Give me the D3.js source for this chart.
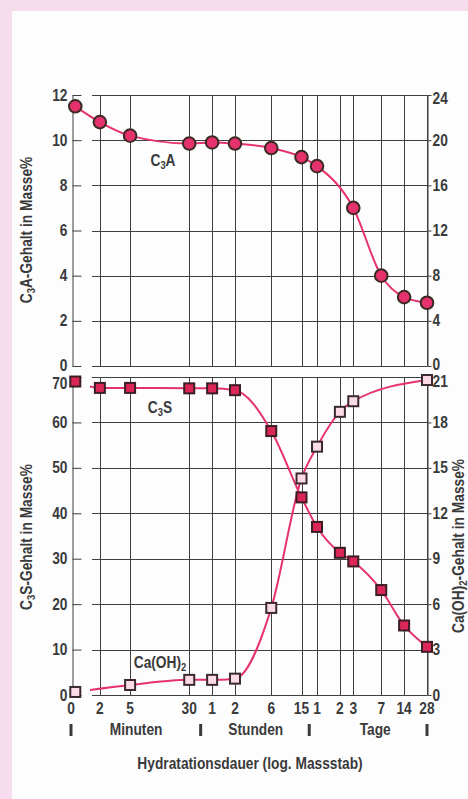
<!DOCTYPE html>
<html>
<head>
<meta charset="utf-8">
<script src="https://cdn.jsdelivr.net/npm/d3@7"></script>
<style>
html, body { margin: 0; padding: 0; background: #f6dcec; }
svg { display: block; }
text { font-family: "Liberation Sans", Arial, sans-serif; fill: #3a3a3a; font-weight: bold; }
</style>
</head>
<body>
<svg id="chart" width="468" height="799"></svg>
<script>

// time axis (minutes), labels as printed
var timeTicks = [0, 2, 5, 30, 60, 120, 360, 900, 1440, 2880, 4320, 10080, 20160, 40320];
var timeLabels = ["0", "2", "5", "30", "1", "2", "6", "15", "1", "2", "3", "7", "14", "28"];
var groupBounds = [0, 42.4, 1138, 40320];
var groupNames = ["Minuten", "Stunden", "Tage"];
var groupCenters = [6, 225, 8400];

var c3aTicksLeft = [0, 2, 4, 6, 8, 10, 12];
var c3aTicksRight = [0, 4, 8, 12, 16, 20, 24];
var c3sTicksLeft = [0, 10, 20, 30, 40, 50, 60, 70];
var caohTicksRight = [0, 3, 6, 9, 12, 15, 18, 21];

var c3aTime = [0, 2, 5, 30, 60, 120, 360, 900, 1440, 4320, 10080, 20160, 40320];
var c3aValues = [11.5, 10.8, 10.2, 9.85, 9.9, 9.85, 9.65, 9.25, 8.85, 7.0, 4.0, 3.05, 2.8];

var c3sTime = [0, 2, 5, 30, 60, 120, 360, 900, 1440, 2880, 4320, 10080, 20160, 40320];
var c3sValues = [69, 67.6, 67.6, 67.5, 67.5, 67.1, 58.1, 43.5, 37.0, 31.3, 29.4, 23.1, 15.3, 10.6];

var caohTime = [0, 5, 30, 60, 120, 360, 900, 1440, 2880, 4320, 40320];
var caohValues = [0.2, 0.66, 1.0, 1.0, 1.08, 5.75, 14.3, 16.4, 18.7, 19.4, 20.8];

var lineColor = "#e6336b";
var gridColor = "#3f3f3f";
var FS = 16, SQ = 0.86;   // condensed look: Arial bold squeezed horizontally

var svg = d3.select("#chart");

// white page, pink frame left/top
svg.append("rect")
    .attr("x", 12).attr("y", 11)
    .attr("width", 456).attr("height", 788)
    .style("fill", "#fdfdfe");

var x = d3.scaleLog().domain([0.86, 40320]).range([72, 427]);
function xPos(t) {
    return t === 0 ? x(0.95) : x(t);
}

var yTop = d3.scaleLinear().domain([0, 12]).range([366, 95]);
var yTopR = d3.scaleLinear().domain([0, 24]).range([366, 95]);
var yBot = d3.scaleLinear().domain([0, 70]).range([695, 377]);
var yBotR = d3.scaleLinear().domain([0, 21]).range([695, 377]);

function zip(ts, vs) {
    return ts.map(function(t, i){ return {t: t, v: vs[i]}; });
}

function squeeze(sel, extra) {
    sel.each(function(){
        var t = d3.select(this);
        var tx = +t.attr("x") || 0, ty = +t.attr("y") || 0;
        t.attr("x", 0).attr("y", 0)
            .attr("transform", "translate(" + tx + "," + ty + ")" + (extra || "") + " scale(" + SQ + ",1)");
    });
}

// nudge the label of one tick up or down
function nudge(axisG, value, px) {
    axisG.selectAll(".tick text")
        .filter(function(d){ return d === value; })
        .attr("dy", (0.32 * FS + px) + "px");
}

function drawPanel(yL, yR, leftTicks, rightTicks) {
    var g = svg.append("g");
    var y0 = yL.range()[0], y1 = yL.range()[1];

    // horizontal grid, leaves a gap next to the left axis
    g.selectAll(".hgrid")
        .data(leftTicks)
        .enter().append("line")
        .attr("x1", 92).attr("x2", x.range()[1])
        .attr("y1", function(d){ return Math.round(yL(d)) + 0.5; })
        .attr("y2", function(d){ return Math.round(yL(d)) + 0.5; })
        .style("stroke", gridColor)
        .style("stroke-width", 1);

    // vertical grid at each time tick
    g.selectAll(".vgrid")
        .data(timeTicks.slice(1))
        .enter().append("line")
        .attr("x1", function(d){ return Math.round(x(d)) + 0.5; })
        .attr("x2", function(d){ return Math.round(x(d)) + 0.5; })
        .attr("y1", y1).attr("y2", y0)
        .style("stroke", gridColor)
        .style("stroke-width", 1);

    var left = g.append("g")
        .attr("transform", "translate(" + (x.range()[0] + 0.5) + ",0)")
        .call(d3.axisLeft(yL).tickValues(leftTicks).tickSizeInner(-9).tickSizeOuter(0).tickPadding(5));

    var right = g.append("g")
        .attr("transform", "translate(" + (x.range()[1] + 0.5) + ",0)")
        .call(d3.axisRight(yR).tickValues(rightTicks).tickSizeInner(4).tickSizeOuter(0).tickPadding(1));

    [left, right].forEach(function(a){
        a.attr("font-family", null).attr("font-size", null);
        a.selectAll("path, line").style("stroke", gridColor).style("stroke-width", 1);
        a.selectAll("text").style("font-size", FS + "px").attr("fill", null);
        squeeze(a.selectAll("text"));
    });
    return {left: left, right: right};
}

function drawLine(data, xs, ys, clip) {
    var path = svg.append("path")
        .datum(data)
        .attr("d", d3.line()
            .x(function(d){ return xs(d.t); })
            .y(function(d){ return ys(d.v); })
            .curve(d3.curveMonotoneX))
        .style("fill", "none")
        .style("stroke", lineColor)
        .style("stroke-width", 2);
    if (clip) path.attr("clip-path", "url(#" + clip + ")");
}

function drawSquares(data, ys, fill, stroke) {
    svg.append("g").selectAll("rect")
        .data(data)
        .enter().append("rect")
        .attr("x", function(d){ return xPos(d.t) - 5; })
        .attr("y", function(d){ return ys(d.v) - 5; })
        .attr("width", 10).attr("height", 10)
        .style("fill", fill)
        .style("stroke", stroke)
        .style("stroke-width", 2);
}

svg.append("clipPath").attr("id", "botClip")
    .append("rect").attr("x", 90).attr("y", 370).attr("width", 360).attr("height", 330);

var topAxes = drawPanel(yTop, yTopR, c3aTicksLeft, c3aTicksRight);
var botAxes = drawPanel(yBot, yBotR, c3sTicksLeft, caohTicksRight);
nudge(topAxes.right, 24, 3);
nudge(topAxes.right, 0, -2);
nudge(topAxes.left, 0, -1);
nudge(botAxes.left, 70, 6);
nudge(botAxes.right, 21, 4);

// C3A
var c3a = zip(c3aTime, c3aValues);
drawLine(c3a, xPos, yTop);
svg.append("g").selectAll("circle")
    .data(c3a)
    .enter().append("circle")
    .attr("cx", function(d){ return xPos(d.t); })
    .attr("cy", function(d){ return yTop(d.v); })
    .attr("r", 6.3)
    .style("fill", "#e5316c")
    .style("stroke", "#3b2a22")
    .style("stroke-width", 2);

// C3S and Ca(OH)2
var c3s = zip(c3sTime, c3sValues);
var caoh = zip(caohTime, caohValues);
drawLine(c3s, xPos, yBot, "botClip");
drawLine(caoh, xPos, yBotR, "botClip");
drawSquares(c3s, yBot, "#dc2658", "#3a1e24");
drawSquares(caoh, yBotR, "#fbdbe7", "#3a2a2e");

// text with a subscript part, squeezed
function subText(px, py, rot, size, a, sub, b) {
    var t = svg.append("text")
        .attr("transform", "translate(" + px + "," + py + ")" + (rot ? " rotate(" + rot + ")" : "") + " scale(" + SQ + ",1)")
        .attr("text-anchor", "middle")
        .style("font-size", size + "px");
    t.append("tspan").text(a);
    t.append("tspan").attr("dy", 3).style("font-size", (size - 5) + "px").text(sub);
    t.append("tspan").attr("dy", -3).text(b);
    return t;
}

// series labels
subText(163, 166, 0, FS, "C", "3", "A");
subText(160, 413, 0, FS, "C", "3", "S");
subText(160, 668, 0, FS, "Ca(OH)", "2", "");

// axis titles
subText(32, 230, -90, FS, "C", "3", "A-Gehalt in Masse%");
subText(32, 537, -90, FS, "C", "3", "S-Gehalt in Masse%");
subText(464, 546, -90, FS, "Ca(OH)", "2", "-Gehalt in Masse%");

// time tick labels
var tl = svg.append("g").selectAll("text")
    .data(timeTicks)
    .enter().append("text")
    .attr("x", function(d){ return d === 0 ? x(0.86) - 1 : x(d); })
    .attr("y", 714)
    .attr("text-anchor", "middle")
    .style("font-size", FS + "px")
    .text(function(d, i){ return timeLabels[i]; });
squeeze(tl);

svg.append("g").selectAll("line")
    .data(groupBounds)
    .enter().append("line")
    .attr("x1", function(d){ return d === 0 ? x(0.86) - 1 : x(d); })
    .attr("x2", function(d){ return d === 0 ? x(0.86) - 1 : x(d); })
    .attr("y1", 724).attr("y2", 736)
    .style("stroke", "#3a3a3a")
    .style("stroke-width", 3);

var gl = svg.append("g").selectAll("text")
    .data(groupCenters)
    .enter().append("text")
    .attr("x", function(d){ return x(d); })
    .attr("y", 735)
    .attr("text-anchor", "middle")
    .style("font-size", FS + "px")
    .text(function(d, i){ return groupNames[i]; });
squeeze(gl);

var title = svg.append("text")
    .attr("x", 250).attr("y", 769)
    .attr("text-anchor", "middle")
    .style("font-size", FS + "px")
    .text("Hydratationsdauer (log. Massstab)");
squeeze(title);

</script>
</body>
</html>
